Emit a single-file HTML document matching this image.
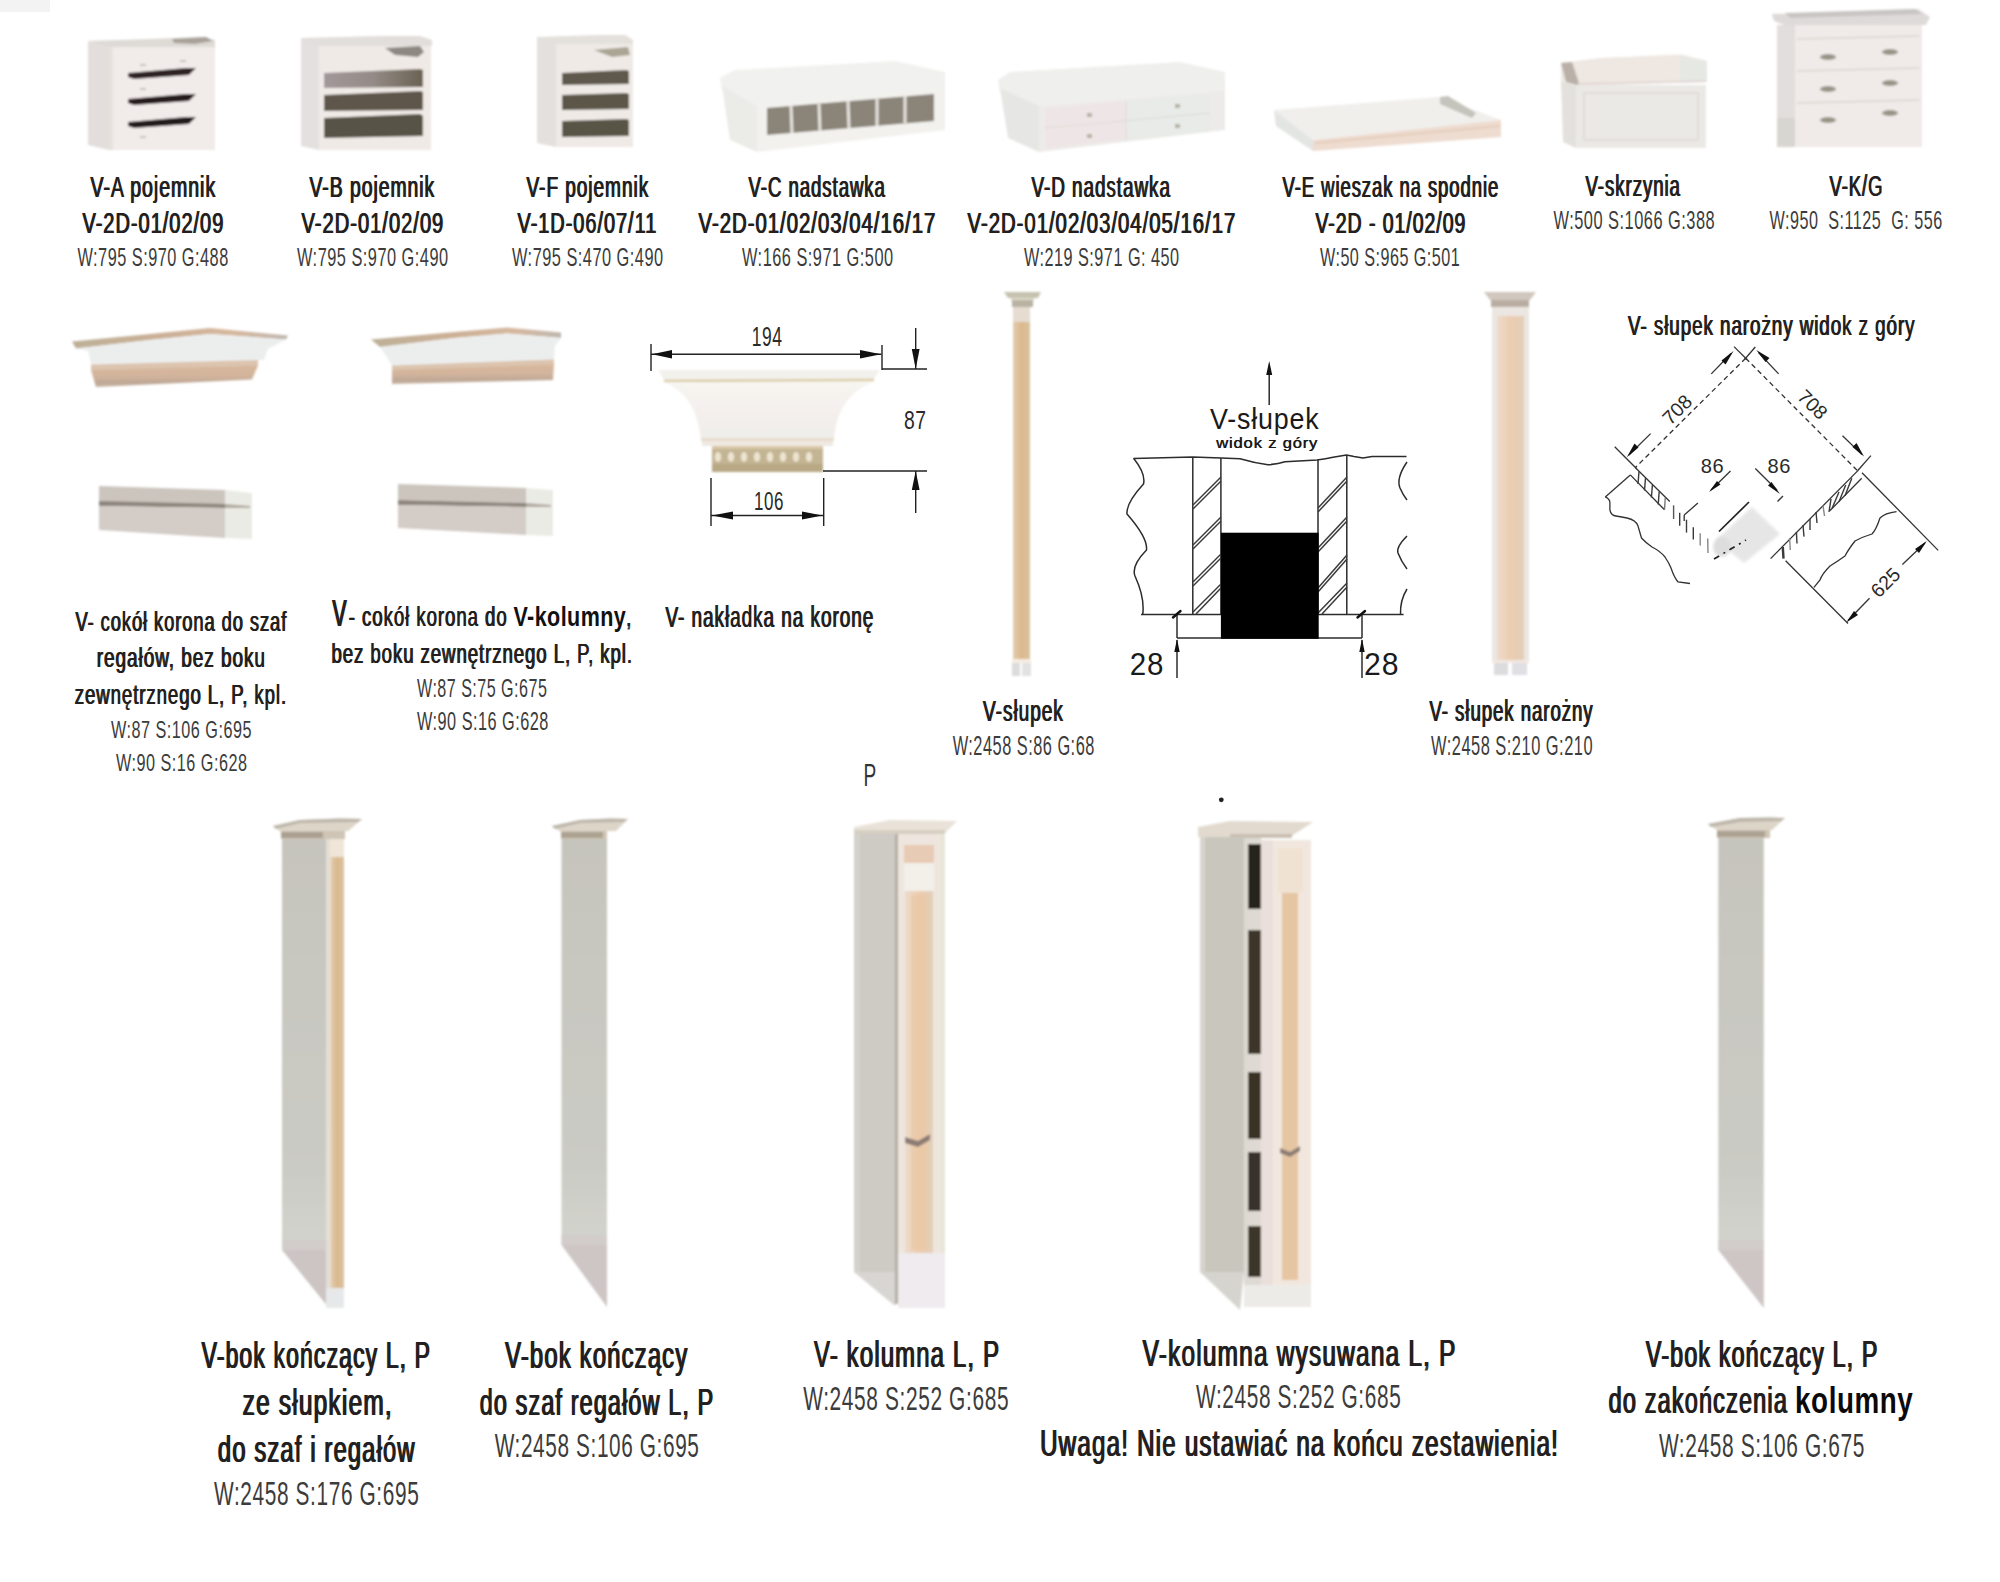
<!DOCTYPE html>
<html><head><meta charset="utf-8"><title>V - katalog elementow</title><style>
html,body{margin:0;padding:0;background:#fff;}
body{width:2000px;height:1582px;overflow:hidden;position:relative;}
svg{position:absolute;left:0;top:0;display:block;}
text{font-family:"Liberation Sans",sans-serif;white-space:pre;}
</style></head><body>
<svg width="2000" height="1582" viewBox="0 0 2000 1582">
<defs>
  <filter id="bl" x="-5%" y="-5%" width="110%" height="110%"><feGaussianBlur stdDeviation="0.9"/></filter>
  <filter id="bl2" x="-10%" y="-10%" width="120%" height="120%"><feGaussianBlur stdDeviation="1.6"/></filter>
  <filter id="bl6" x="-30%" y="-30%" width="160%" height="160%"><feGaussianBlur stdDeviation="6"/></filter>
  <linearGradient id="gOpenB1" x1="0" x2="1" y1="0" y2="0">
    <stop offset="0" stop-color="#a2989a"/><stop offset="0.5" stop-color="#948a86"/><stop offset="1" stop-color="#6a6252"/>
  </linearGradient>
  <linearGradient id="gGold" x1="0" x2="1" y1="0" y2="0">
    <stop offset="0" stop-color="#e2cdb0"/><stop offset="0.5" stop-color="#dcb88e"/><stop offset="1" stop-color="#d8c4a0"/>
  </linearGradient>
  <linearGradient id="gGoldP" x1="0" x2="1" y1="0" y2="0">
    <stop offset="0" stop-color="#ecdccc"/><stop offset="0.5" stop-color="#ecccb0"/><stop offset="1" stop-color="#e2cfb8"/>
  </linearGradient>
  <linearGradient id="gBody" x1="0" x2="0" y1="0" y2="1">
    <stop offset="0" stop-color="#c6c5bd"/><stop offset="0.8" stop-color="#cbcbc5"/><stop offset="1" stop-color="#d4d4ce"/>
  </linearGradient>
  <linearGradient id="gTan" x1="0" x2="1" y1="0" y2="0">
    <stop offset="0" stop-color="#c3a58c"/><stop offset="0.6" stop-color="#c8aa8e"/><stop offset="1" stop-color="#c4ae96"/>
  </linearGradient>
  <linearGradient id="gTopBand" x1="0" x2="1" y1="0" y2="0">
    <stop offset="0" stop-color="#bdb098"/><stop offset="0.45" stop-color="#cdb096"/><stop offset="0.75" stop-color="#d6b89e"/><stop offset="1" stop-color="#c0b8b0"/>
  </linearGradient>
  <linearGradient id="gLow" x1="0" x2="0" y1="0" y2="1">
    <stop offset="0" stop-color="#d8b89e"/><stop offset="0.5" stop-color="#d2b49c"/><stop offset="0.8" stop-color="#bea896"/><stop offset="1" stop-color="#c8b4a4"/>
  </linearGradient>
  <linearGradient id="gBowl" x1="0" x2="0" y1="0" y2="1">
    <stop offset="0" stop-color="#f6f5f0"/><stop offset="0.6" stop-color="#f4efec"/><stop offset="1" stop-color="#eeeeea"/>
  </linearGradient>
</defs>

<!-- faint top-left patch -->
<rect x="0" y="0" width="50" height="12" fill="#f3f3f3"/>

<!-- ================= ROW 1 ================= -->
<g id="r1" filter="url(#bl)">
  <!-- V-A pojemnik -->
  <polygon points="88,41 109,46 109,150 88,145" fill="#e3dedb"/>
  <polygon points="88,41 150,39 200,37 215,40 215,47 109,47" fill="#dedad6"/>
  <polygon points="172,39 206,37 213,41 195,44 174,43" fill="#a8a29a"/>
  <rect x="109" y="47" width="106" height="103" fill="#f1ebea"/>
  <rect x="109" y="47" width="4" height="103" fill="#e6e2dc"/>
  <polygon points="128,73 186,68 196,68 189,75 134,79 128,77" fill="#2e2422"/>
  <polygon points="128,99 186,94 196,94 189,101 134,105 128,103" fill="#261c1a"/>
  <polygon points="128,122 186,117 196,117 189,124 134,128 128,126" fill="#241c1a"/>
  <rect x="140" y="64" width="6" height="2" fill="#c8c2bc"/>
  <rect x="180" y="60" width="6" height="2" fill="#c8c2bc"/>
  <rect x="140" y="88" width="6" height="2" fill="#c8c2bc"/>
  <rect x="140" y="136" width="6" height="2" fill="#c8c2bc"/>

  <!-- V-B pojemnik -->
  <polygon points="301,38 319,42 319,150 301,146" fill="#e4e0e0"/>
  <polygon points="301,38 380,36 420,36 432,40 432,46 319,46" fill="#e2dedb"/>
  <rect x="319" y="46" width="112" height="104" fill="#efeae6"/>
  <polygon points="385,48 420,46 424,52 418,57 395,55" fill="#8e8882"/>
  <polygon points="324,73 420,69 423,70 423,87 324,88" fill="url(#gOpenB1)"/>
  <polygon points="324,95 420,91 423,92 423,110 324,111" fill="#5f574c"/>
  <polygon points="324,118 420,114 423,116 423,136 324,138" fill="#585346"/>

  <!-- V-F pojemnik -->
  <polygon points="537,37 556,41 556,147 537,143" fill="#e3e0de"/>
  <polygon points="537,37 600,35 625,35 633,40 633,44 556,44" fill="#e4e0dc"/>
  <rect x="556" y="44" width="77" height="103" fill="#efeae6"/>
  <polygon points="594,50 628,47 630,55 612,57" fill="#aaa594"/>
  <polygon points="562,73 626,70 629,71 629,84 562,85" fill="#5e594d"/>
  <polygon points="562,95 626,93 629,94 629,109 562,110" fill="#5c574a"/>
  <polygon points="562,121 626,119 629,120 629,136 562,137" fill="#585446"/>

  <!-- V-C nadstawka -->
  <polygon points="720,78 735,70 895,61 945,72 945,90 757,106 722,90" fill="#f1f1ef"/>
  <polygon points="722,86 757,106 757,152 730,140" fill="#ebebe8"/>
  <polygon points="757,106 945,88 945,130 757,152" fill="#f2f1ee"/>
  <polygon points="767,108 934,94 934,121 767,135" fill="#8b8479"/>
  <g stroke="#e6e3de" stroke-width="3">
    <line x1="791" y1="106" x2="792" y2="133"/>
    <line x1="819" y1="104" x2="820" y2="131"/>
    <line x1="848" y1="101" x2="849" y2="128"/>
    <line x1="877" y1="99" x2="877" y2="126"/>
    <line x1="905" y1="96" x2="905" y2="123"/>
  </g>

  <!-- V-D nadstawka -->
  <polygon points="998,80 1010,72 1180,62 1225,72 1225,90 1039,106 1000,92" fill="#efefed"/>
  <polygon points="1000,88 1039,106 1039,152 1008,138" fill="#e6e7e4"/>
  <polygon points="1039,106 1225,90 1225,130 1039,152" fill="#edebe9"/>
  <polygon points="1045,108 1125,101 1125,140 1045,149" fill="#eee6e6"/>
  <polygon points="1128,101 1210,94 1210,131 1128,140" fill="#e8ebe8"/>
  <g stroke="#dcdad6" stroke-width="1.2" fill="none">
    <line x1="1045" y1="128" x2="1210" y2="113"/>
    <line x1="1126" y1="101" x2="1126" y2="141"/>
  </g>
  <g fill="#b8b0a4">
    <rect x="1087" y="113" width="5" height="4"/><rect x="1087" y="134" width="5" height="4"/>
    <rect x="1175" y="104" width="5" height="4"/><rect x="1175" y="124" width="5" height="4"/>
  </g>

  <!-- V-E wieszak -->
  <polygon points="1274,110 1440,97 1501,120 1313,140" fill="#f0efec"/>
  <polygon points="1274,110 1313,140 1313,151 1276,126" fill="#e2e5e2"/>
  <polygon points="1313,140 1501,120 1501,137 1313,151" fill="#eedcd0"/>
  <line x1="1315" y1="143" x2="1500" y2="126" stroke="#e4cdbb" stroke-width="2"/>
  <polygon points="1440,97 1448,96 1476,113 1472,118 1440,104" fill="#c4c4bc"/>

  <!-- V-skrzynia -->
  <polygon points="1561,63 1600,58 1681,54.5 1707,61 1707,82 1577,86 1561,81" fill="#eee7e2"/>
  <polygon points="1680,56 1707,61 1707,82 1680,83" fill="#e6e8e4"/>
  <polygon points="1561,63 1572,62 1580,86 1566,82" fill="#b9b1a8"/>
  <line x1="1578" y1="84" x2="1706" y2="81" stroke="#e2d8d6" stroke-width="2"/>
  <rect x="1576" y="85" width="130" height="63" fill="#ebe9e5"/>
  <polygon points="1561,81 1576,86 1576,148 1563,142" fill="#e3e1dd"/>
  <rect x="1584" y="93" width="114" height="47" fill="none" stroke="#e0ddd8" stroke-width="2"/>
  <!-- V-K/G -->
  <polygon points="1772,14 1918,9 1930,17 1926,25 1790,27 1774,21" fill="#dedad9"/>
  <polygon points="1785,13 1915,9 1922,14 1790,18" fill="#c9c5c4"/>
  <rect x="1777" y="25" width="18" height="122" fill="#e2dedc"/>
  <rect x="1795" y="25" width="127" height="122" fill="#f0eae8"/>
  <rect x="1777" y="118" width="18" height="29" fill="#d8d6d0"/>
  <g stroke="#dcd6d2" stroke-width="1.5">
    <line x1="1797" y1="39" x2="1920" y2="36"/>
    <line x1="1797" y1="71" x2="1920" y2="68"/>
    <line x1="1797" y1="103" x2="1920" y2="100"/>
  </g>
  <g fill="#9a9488">
    <ellipse cx="1828" cy="57" rx="8" ry="3"/><ellipse cx="1890" cy="52" rx="8" ry="3"/>
    <ellipse cx="1828" cy="89" rx="8" ry="3"/><ellipse cx="1890" cy="83" rx="8" ry="3"/>
    <ellipse cx="1828" cy="120" rx="8" ry="3"/><ellipse cx="1890" cy="113" rx="8" ry="3"/>
  </g>
</g>

<!-- ================= ROW 2 ================= -->
<g id="r2img" filter="url(#bl)">
  <!-- cornice 1 -->
  <polygon points="72,341.5 150,334 210,328 288,335.5 286,339.5 210,334 150,340 76,348.5" fill="url(#gTopBand)"/>
  <polygon points="76,348.5 150,340 210,334 286,339.5 268,349 264,360 91,364.5 88,351" fill="#eceeee"/>
  <polygon points="91,364.5 258,360 258,366 91,370.5" fill="#dcc4ae"/>
  <polygon points="91,370 258,365.5 252,379.5 96,387" fill="url(#gLow)"/>
  <!-- cornice 2 -->
  <polygon points="371,339.5 455,332 507,327.5 561,332.5 561,338 507,333.5 455,338 380,347" fill="url(#gTopBand)"/>
  <polygon points="380,347 455,338 507,333.5 561,338 555,346 554,360 392,365.5 386,356" fill="#eceeee"/>
  <polygon points="392,365.5 554,359.5 554,365 392,370.5" fill="#dcc4ae"/>
  <polygon points="392,370 554,364.5 553,380 392,384" fill="url(#gLow)"/>
  <!-- plinth 1 -->
  <polygon points="99,486 225,490 225,505 99,502" fill="#cbc5bd"/>
  <polygon points="99,501 225,504 225,508 99,506" fill="#8e867e"/>
  <polygon points="99,506 225,508 225,538 99,530" fill="#d3ccc7"/>
  <polygon points="225,490 252,493 252,539 225,538" fill="#ebebe5"/>
  <polygon points="225,504 250,506 250,508 225,508" fill="#b0aaa0"/>
  <!-- plinth 2 -->
  <polygon points="398,484 526,488 526,503 398,500" fill="#cbc5bd"/>
  <polygon points="398,500 526,503 526,507 398,505" fill="#8e867e"/>
  <polygon points="398,505 526,507 526,535 398,528" fill="#d3ccc7"/>
  <polygon points="526,488 553,490 553,536 526,535" fill="#ebebe5"/>
  <polygon points="526,503 551,505 551,507 526,507" fill="#b0aaa0"/>

  <!-- capital (nakladka) -->
  <polygon points="658,370 880,370 873,380 665,381" fill="#f2f1ec"/>
  <line x1="664" y1="381" x2="874" y2="380" stroke="#dccca4" stroke-width="2.5"/>
  <path d="M664,382 L873,382 C848,392 836,412 834,440 L701,440 C698,412 688,392 664,382 Z" fill="url(#gBowl)"/>
  <rect x="701" y="438" width="133" height="3" fill="#e8dccb"/>
  <rect x="702" y="441" width="131" height="5" fill="#efe9e2"/>
  <rect x="712" y="446" width="111" height="26" fill="#c3b493"/>
  <rect x="712" y="446" width="111" height="3" fill="#d8c8a8"/>
  <g fill="#ece4d0">
    <ellipse cx="718" cy="457" rx="3.2" ry="5"/><ellipse cx="731" cy="457" rx="3.2" ry="5"/>
    <ellipse cx="744" cy="457" rx="3.2" ry="5"/><ellipse cx="757" cy="457" rx="3.2" ry="5"/>
    <ellipse cx="770" cy="457" rx="3.2" ry="5"/><ellipse cx="783" cy="457" rx="3.2" ry="5"/>
    <ellipse cx="796" cy="457" rx="3.2" ry="5"/><ellipse cx="809" cy="457" rx="3.2" ry="5"/>
  </g>
  <rect x="712" y="464" width="111" height="8" fill="#b8a884"/>

  <!-- V-slupek column -->
  <polygon points="1004,292 1041,292 1038,298 1008,298" fill="#c6c2b0"/>
  <rect x="1011" y="298" width="23" height="3" fill="#e0dccc"/>
  <rect x="1012" y="300" width="21" height="7" fill="#b8b2a2"/>
  <rect x="1013" y="307" width="17" height="15" fill="#e6dcd0"/>
  <rect x="1013" y="322" width="17" height="337" fill="url(#gGold)"/>
  <rect x="1012" y="659" width="19" height="4" fill="#f6ece2"/>
  <rect x="1012" y="663" width="8" height="13" fill="#dcdcdc"/>
  <rect x="1022" y="663" width="9" height="13" fill="#e2e2e4"/>

  <!-- corner column -->
  <polygon points="1484,292 1536,292 1530,300 1490,300" fill="#d0c8be"/>
  <rect x="1491" y="300" width="38" height="7" fill="#b9ada2"/>
  <rect x="1492" y="307" width="37" height="353" fill="#ece6e2"/>
  <rect x="1497" y="316" width="27" height="344" fill="url(#gGoldP)"/>
  <rect x="1492" y="660" width="37" height="3" fill="#f2e8e2"/>
  <rect x="1494" y="663" width="14" height="12" fill="#dcdcde"/>
  <rect x="1512" y="663" width="15" height="12" fill="#e0dfe4"/>
</g>

<!-- dimension lines for capital -->
<g stroke="#222" stroke-width="1.4" fill="none">
  <line x1="651" y1="354.2" x2="881.5" y2="354.2"/>
  <line x1="651" y1="344" x2="651" y2="371"/>
  <line x1="882" y1="345" x2="882" y2="370"/>
  <line x1="882" y1="369" x2="927" y2="369"/>
  <line x1="823" y1="471" x2="927" y2="471"/>
  <line x1="915.7" y1="328" x2="915.7" y2="369"/>
  <line x1="915.7" y1="471" x2="915.7" y2="513"/>
  <line x1="711" y1="515.5" x2="823.7" y2="515.5"/>
  <line x1="711" y1="478" x2="711" y2="526"/>
  <line x1="823.7" y1="478" x2="823.7" y2="526"/>
</g>
<g fill="#111">
  <polygon points="652,354.2 672,350 672,358.4"/>
  <polygon points="881,354.2 860,350 860,358.4"/>
  <polygon points="915.7,369 911.8,349 919.6,349"/>
  <polygon points="915.7,471 911.8,490 919.6,490"/>
  <polygon points="712,515.5 733,511.5 733,519.5"/>
  <polygon points="822.5,515.5 802,511.5 802,519.5"/>
</g>

<!-- ================= V-slupek diagram ================= -->
<g id="diag1" stroke="#2c2c2c" stroke-width="1.5" fill="none" stroke-linejoin="round">
  <path d="M1133.5,458.5 L1192.7,457 L1221,458 L1240,458.7 Q1255,463 1268,464.8 Q1278,464 1285,461.7 L1317,460 Q1326,459 1333,457.2 L1346.5,455 L1354,456.5 L1363,458 L1372,456.5 L1406.5,456.5"/>
  <path d="M1133.6,458.3 Q1146,474 1143.5,484 Q1126,503 1127,514 Q1148,538 1146.5,550 Q1131,566 1135,576 Q1145,598 1142.7,614.6"/>
  <path d="M1407,462 Q1396,478 1400,488 Q1403,495 1407,500"/>
  <path d="M1407,536 Q1396,547 1398,553 Q1401,561 1407,569"/>
  <path d="M1407,589 Q1400,600 1400.5,614.6"/>
  <line x1="1141" y1="614.6" x2="1403.6" y2="614.6"/>
  <line x1="1192.8" y1="457" x2="1192.8" y2="614.6"/>
  <line x1="1220.9" y1="458" x2="1220.9" y2="614.6"/>
  <line x1="1318" y1="460" x2="1318" y2="614.6"/>
  <line x1="1346.8" y1="455" x2="1346.8" y2="614.6"/>
  <line x1="1177" y1="614.6" x2="1177" y2="638"/>
  <line x1="1362" y1="614.6" x2="1362" y2="638"/>
  <line x1="1177" y1="638" x2="1362" y2="638"/>
  <line x1="1177" y1="640" x2="1177" y2="678"/>
  <line x1="1362" y1="640" x2="1362" y2="678"/>
  <line x1="1269.2" y1="372" x2="1269.2" y2="405"/>
</g>
<g id="hatch1" stroke="#3a3a3a" stroke-width="1.5" fill="none">
  <line x1="1193" y1="505" x2="1221" y2="477"/><line x1="1193" y1="509" x2="1221" y2="481"/>
  <line x1="1193" y1="545" x2="1221" y2="517"/><line x1="1193" y1="549" x2="1221" y2="521"/>
  <line x1="1193" y1="582" x2="1221" y2="554"/><line x1="1193" y1="586" x2="1221" y2="558"/>
  <line x1="1193" y1="612" x2="1221" y2="584"/><line x1="1196" y1="614" x2="1221" y2="588"/>
  <line x1="1318" y1="508" x2="1347" y2="477"/><line x1="1318" y1="512" x2="1347" y2="481"/>
  <line x1="1318" y1="548" x2="1347" y2="517"/><line x1="1318" y1="552" x2="1347" y2="521"/>
  <line x1="1318" y1="588" x2="1347" y2="555"/><line x1="1318" y1="592" x2="1347" y2="559"/>
  <line x1="1318" y1="613" x2="1347" y2="583"/><line x1="1322" y1="614" x2="1347" y2="587"/>
</g>
<rect x="1220.9" y="532.7" width="97.8" height="106.1" fill="#000"/>
<g fill="#111" stroke="none">
  <polygon points="1269.2,361 1266.2,375 1272.2,375"/>
  <polygon points="1177,639 1174.3,652 1179.7,652"/>
  <polygon points="1362,639 1359.3,652 1364.7,652"/>
</g>
<g stroke="#111" stroke-width="2.4" stroke-linecap="round">
  <line x1="1173" y1="617.5" x2="1180.5" y2="611"/>
  <line x1="1357.5" y1="617.5" x2="1365" y2="611"/>
</g>

<!-- ================= corner diagram ================= -->
<polygon points="1716,540 1752,507 1780,534 1744,563" fill="#e6e6e6" filter="url(#bl2)"/>
<ellipse cx="1722" cy="547" rx="9" ry="10" fill="#dddddd" filter="url(#bl2)"/>
<g id="diag2" stroke="#333" stroke-width="1.3" fill="none" stroke-linecap="butt">
  <line x1="1745.7" y1="358.2" x2="1635.4" y2="467.5" stroke-dasharray="5,3.5"/>
  <line x1="1745.7" y1="358.2" x2="1857.6" y2="470.8" stroke-dasharray="5,3.5"/>
  <line x1="1734" y1="346.6" x2="1747" y2="359.5"/>
  <line x1="1755.3" y1="347" x2="1744.5" y2="359.5"/>
  <line x1="1711.3" y1="373.9" x2="1731" y2="353.5"/>
  <line x1="1650.6" y1="433.6" x2="1629" y2="455"/>
  <line x1="1614.7" y1="446.7" x2="1636.4" y2="468.5"/>
  <line x1="1758.5" y1="352.5" x2="1778.6" y2="373.9"/>
  <line x1="1842.5" y1="435.7" x2="1862" y2="454.6"/>
  <line x1="1870.9" y1="455.6" x2="1857.6" y2="470.8"/>
  <!-- left wall -->
  <line x1="1635.7" y1="468" x2="1669.8" y2="501.5"/>
  <line x1="1630.3" y1="474.9" x2="1664.5" y2="509.8"/>
  <line x1="1630.3" y1="474.9" x2="1605.3" y2="496.9"/>
  <line x1="1684.2" y1="515.1" x2="1697.9" y2="503"/>
  <path d="M1605.3,496.9 Q1610,499 1609.9,503 L1609.9,510 Q1611,515.5 1616,516 Q1622,517 1627,518 Q1636,520 1638,526 Q1640,533 1641.5,538 Q1646,543 1652,547 Q1660,551 1665,557 Q1669,563 1671,568 Q1674,577 1678,582 L1690,583.5"/>
  <!-- 86 arrows -->
  <line x1="1730.5" y1="471" x2="1711" y2="490"/>
  <line x1="1755.3" y1="468.5" x2="1777" y2="490"/>
  <polyline points="1783,496 1777.5,501.5"/>
  <!-- dashed near blob -->
  <line x1="1719" y1="531.5" x2="1749" y2="502" stroke="#222" stroke-width="1.7"/>
  <line x1="1714" y1="559" x2="1746" y2="540" stroke="#222" stroke-width="1.7" stroke-dasharray="6,5,2,5"/>
    <!-- right wall -->
  <line x1="1857.9" y1="470.6" x2="1770.6" y2="558.6"/>
  <line x1="1861.7" y1="478.2" x2="1829.8" y2="510.8"/>
  <line x1="1862" y1="472.7" x2="1938.2" y2="550.4"/>
  <line x1="1785.6" y1="560.8" x2="1848" y2="623.5"/>
  <path d="M1896.5,511.6 Q1885,513 1880,518 Q1876,530 1872,534 Q1862,537 1855,541 Q1848,550 1845,556 Q1838,561 1830,566 Q1822,574 1820,580 L1814,587.4"/>
  <!-- 625 dim -->
  <line x1="1848" y1="620.5" x2="1869.5" y2="598.3"/>
  <line x1="1902.4" y1="564.5" x2="1925" y2="543"/>
</g>
<g stroke="#3a3a3a" stroke-width="1.4">
  <!-- left wall hatch ticks -->
  <line x1="1639" y1="471.5" x2="1638" y2="484"/><line x1="1645.5" y1="478" x2="1644.5" y2="490.5"/>
  <line x1="1652.4" y1="485" x2="1651.4" y2="497.5"/><line x1="1659.2" y1="491.5" x2="1658.2" y2="504.5"/>
  <line x1="1665.3" y1="497.5" x2="1664.5" y2="509.5" stroke="#777"/>
  <line x1="1673.6" y1="505.3" x2="1673.6" y2="519" stroke="#555"/>
  <line x1="1679.7" y1="512.8" x2="1679.7" y2="525.7"/>
  <line x1="1684.2" y1="515" x2="1684.2" y2="521"/>
  <line x1="1686.5" y1="519.7" x2="1686.5" y2="532.6"/>
  <line x1="1693.3" y1="527.3" x2="1693.3" y2="539.4"/>
  <line x1="1700.2" y1="533.3" x2="1700.2" y2="545.5" stroke="#888"/>
  <line x1="1707.7" y1="538.6" x2="1708" y2="553" stroke="#888"/>
  <!-- right wall hatch ticks -->
  <line x1="1851.8" y1="478.2" x2="1845" y2="495.7"/>
  <line x1="1845.7" y1="485" x2="1839" y2="501.7"/>
  <line x1="1839" y1="492" x2="1832" y2="508.6"/>
  <line x1="1831" y1="499" x2="1829" y2="512"/>
  <line x1="1823" y1="505.5" x2="1824.5" y2="516" stroke="#888"/>
  <line x1="1816" y1="512" x2="1817" y2="523"/>
  <line x1="1810" y1="519" x2="1810" y2="530"/>
  <line x1="1803" y1="525" x2="1804" y2="536.6"/>
  <line x1="1796.4" y1="532" x2="1797" y2="543.5"/>
  <line x1="1789.6" y1="538" x2="1790.3" y2="550" stroke="#888"/>
  <line x1="1782.8" y1="547" x2="1783.5" y2="558.6" stroke-width="2.4"/>
</g>
<g fill="#111">
  <polygon points="1733.5,351 1721.5,360.5 1725.5,364.5"/>
  <polygon points="1626.8,457.3 1638.5,447.5 1634.5,443.5"/>
  <polygon points="1756.3,350 1765.5,362 1769.5,358"/>
  <polygon points="1864,456.6 1852.5,447 1856.5,443"/>
  <polygon points="1709,492 1717,481 1720.5,484.5"/>
  <polygon points="1780,494 1768,485.5 1771.5,482"/>
  <polygon points="1846.3,622.5 1854,611 1858,615"/>
  <polygon points="1926.8,541 1915,549 1919,553"/>
</g>
<g font-family="Liberation Sans" fill="#2a2a2a" font-size="19.5" text-anchor="middle">
  <text transform="translate(1677,409.5) rotate(-45)" y="7">708</text>
  <text transform="translate(1812.8,404.3) rotate(45)" y="7">708</text>
  <text transform="translate(1885.3,582.3) rotate(-45)" y="7">625</text>
</g>
<circle cx="1221.3" cy="799.8" r="2.4" fill="#222"/>

<!-- ================= ROW 3 (tall items) ================= -->
<g id="r3" filter="url(#bl)">
  <!-- item 1 -->
  <polygon points="273,826 300,820 340,818.5 362,819 348,831 281,832" fill="#ddd5c8"/>
  <polygon points="273,826 300,820 340,818.5 362,819 358,822 300,823 276,829" fill="#bdb6aa"/>
  <rect x="281" y="831" width="64" height="8" fill="#cfc5b6"/>
  <rect x="281" y="832" width="42" height="6" fill="#aaa092"/>
  <rect x="282" y="839" width="44.5" height="411" fill="url(#gBody)"/>
  <polygon points="282,1250 326.5,1250 326.5,1305" fill="#cdc5c4"/>
  <rect x="282" y="1240" width="44.5" height="10" fill="#d2cccb"/>
  <rect x="326.5" y="839" width="4" height="449" fill="#e4ddd2"/>
  <rect x="330.5" y="839" width="13.5" height="18" fill="#efe6d8"/>
  <rect x="330.5" y="857" width="13.5" height="431" fill="url(#gGold)"/>
  <rect x="326" y="1288" width="18" height="20" fill="#e6e8ea"/>

  <!-- item 2 -->
  <polygon points="552,826 580,820 610,818.5 628,819 616,831 561,832" fill="#ddd5c8"/>
  <polygon points="552,826 580,820 610,818.5 628,819 624,822 580,823 555,829" fill="#bdb6aa"/>
  <rect x="561" y="831" width="46" height="8" fill="#cfc5b6"/>
  <rect x="561" y="832" width="42" height="6" fill="#aca292"/>
  <rect x="561.5" y="839" width="45.5" height="406" fill="url(#gBody)"/>
  <polygon points="561.5,1245 607,1245 607,1307" fill="#cdc6c4"/>
  <rect x="561.5" y="1235" width="45.5" height="10" fill="#d2cccb"/>

  <!-- item 3 (kolumna) -->
  <polygon points="854,827 890,820 957,821 945,833 854,833" fill="#e9e2d8"/>
  <rect x="854" y="830" width="91" height="4" fill="#d6cec2"/>
  <rect x="854" y="834" width="41" height="438" fill="#cdcbc4"/>
  <rect x="854" y="834" width="6" height="438" fill="#d4d2cc"/>
  <polygon points="854,1272 895,1272 895,1306" fill="#d8d6d2"/>
  <rect x="895" y="834" width="3" height="470" fill="#b4aea4"/>
  <rect x="898" y="834" width="47" height="470" fill="#eee6de"/>
  <rect x="940" y="834" width="5" height="470" fill="#e8e6d8"/>
  <rect x="904" y="845" width="30" height="18" fill="#e8cbb4"/>
  <rect x="904" y="863" width="30" height="28" fill="#f3f0ea"/>
  <rect x="905" y="891" width="28" height="362" fill="url(#gGoldP)"/>
  <rect x="911" y="895" width="16" height="355" fill="#ebc6a2" opacity="0.6"/>
  <rect x="898" y="1253" width="47" height="55" fill="#efebee"/>
  <polygon points="905,1137 918,1141 930,1134 930,1140 918,1147 905,1143" fill="#8c7c74"/>

  <!-- item 4 (kolumna wysuwana) -->
  <polygon points="1198,827 1230,821 1313,822 1290,837 1198,837" fill="#e2dacf"/>
  <rect x="1230" y="834" width="62" height="4" fill="#c9bfb2"/>
  <rect x="1200" y="837" width="44" height="435" fill="#c9c7bd"/>
  <rect x="1200" y="837" width="5" height="435" fill="#d6d4ce"/>
  <polygon points="1200,1272 1244,1272 1240,1310" fill="#d6d4cf"/>
  <rect x="1244" y="838" width="17" height="447" fill="#dedad3"/>
  <rect x="1248" y="844" width="13" height="65" fill="#28241c"/>
  <rect x="1248" y="930" width="13" height="124" fill="#3c342a"/>
  <rect x="1248" y="1072" width="13" height="67" fill="#3a3228"/>
  <rect x="1248" y="1152" width="13" height="59" fill="#38302a"/>
  <rect x="1248" y="1226" width="13" height="51" fill="#3a342c"/>
  <rect x="1261" y="840" width="12" height="450" fill="#ebdfdc"/>
  <rect x="1273" y="840" width="38" height="450" fill="#f1e7df"/>
  <rect x="1278" y="848" width="25" height="45" fill="#efe2d2"/>
  <rect x="1282" y="893" width="16" height="387" fill="#e6c6a2"/>
  <polygon points="1280,1148 1290,1152 1300,1146 1300,1151 1290,1157 1280,1153" fill="#8c7c74"/>
  <rect x="1244" y="1285" width="67" height="22" fill="#ecebe8"/>

  <!-- item 5 -->
  <polygon points="1708,824 1740,818 1770,817.5 1785,818 1772,830 1717,830" fill="#ddd5c8"/>
  <polygon points="1708,824 1740,818 1770,817.5 1785,818 1781,821 1740,822 1711,827" fill="#bdb6aa"/>
  <rect x="1717" y="830" width="53" height="8" fill="#cfc5b6"/>
  <rect x="1717" y="831" width="48" height="6" fill="#aca292"/>
  <rect x="1718.3" y="838" width="45.5" height="412" fill="url(#gBody)"/>
  <polygon points="1718.3,1250 1763.8,1250 1763.8,1308" fill="#cdc6c4"/>
  <rect x="1718.3" y="1240" width="45.5" height="10" fill="#d2cccb"/>
</g>

<g id="texts">
<text x="90.00" y="196.50" font-size="28.99" letter-spacing="1.45" fill="#231f20" textLength="125.66" lengthAdjust="spacingAndGlyphs">V-A pojemnik</text>
<text x="90.97" y="196.50" font-size="28.99" letter-spacing="1.45" fill="#231f20" textLength="125.66" lengthAdjust="spacingAndGlyphs">V-A pojemnik</text>
<text x="82.00" y="232.50" font-size="28.99" letter-spacing="1.45" fill="#231f20" textLength="141.80" lengthAdjust="spacingAndGlyphs">V-2D-01/02/09</text>
<text x="82.97" y="232.50" font-size="28.99" letter-spacing="1.45" fill="#231f20" textLength="141.80" lengthAdjust="spacingAndGlyphs">V-2D-01/02/09</text>
<text x="77.50" y="266.00" font-size="25.36" letter-spacing="0.76" fill="#3c3c3c" textLength="151.20" lengthAdjust="spacingAndGlyphs">W:795 S:970 G:488</text>
<text x="309.00" y="196.50" font-size="28.99" letter-spacing="1.45" fill="#231f20" textLength="125.66" lengthAdjust="spacingAndGlyphs">V-B pojemnik</text>
<text x="309.97" y="196.50" font-size="28.99" letter-spacing="1.45" fill="#231f20" textLength="125.66" lengthAdjust="spacingAndGlyphs">V-B pojemnik</text>
<text x="301.00" y="232.50" font-size="28.99" letter-spacing="1.45" fill="#231f20" textLength="142.81" lengthAdjust="spacingAndGlyphs">V-2D-01/02/09</text>
<text x="301.97" y="232.50" font-size="28.99" letter-spacing="1.45" fill="#231f20" textLength="142.81" lengthAdjust="spacingAndGlyphs">V-2D-01/02/09</text>
<text x="297.00" y="266.00" font-size="25.36" letter-spacing="0.76" fill="#3c3c3c" textLength="151.56" lengthAdjust="spacingAndGlyphs">W:795 S:970 G:490</text>
<text x="526.00" y="196.50" font-size="28.99" letter-spacing="1.45" fill="#231f20" textLength="122.65" lengthAdjust="spacingAndGlyphs">V-F pojemnik</text>
<text x="526.97" y="196.50" font-size="28.99" letter-spacing="1.45" fill="#231f20" textLength="122.65" lengthAdjust="spacingAndGlyphs">V-F pojemnik</text>
<text x="517.00" y="232.50" font-size="28.99" letter-spacing="1.45" fill="#231f20" textLength="139.79" lengthAdjust="spacingAndGlyphs">V-1D-06/07/11</text>
<text x="517.97" y="232.50" font-size="28.99" letter-spacing="1.45" fill="#231f20" textLength="139.79" lengthAdjust="spacingAndGlyphs">V-1D-06/07/11</text>
<text x="512.00" y="266.00" font-size="25.36" letter-spacing="0.76" fill="#3c3c3c" textLength="151.56" lengthAdjust="spacingAndGlyphs">W:795 S:470 G:490</text>
<text x="748.00" y="196.50" font-size="28.99" letter-spacing="1.45" fill="#231f20" textLength="137.39" lengthAdjust="spacingAndGlyphs">V-C nadstawka</text>
<text x="748.97" y="196.50" font-size="28.99" letter-spacing="1.45" fill="#231f20" textLength="137.39" lengthAdjust="spacingAndGlyphs">V-C nadstawka</text>
<text x="698.00" y="232.50" font-size="28.99" letter-spacing="1.45" fill="#231f20" textLength="237.83" lengthAdjust="spacingAndGlyphs">V-2D-01/02/03/04/16/17</text>
<text x="698.97" y="232.50" font-size="28.99" letter-spacing="1.45" fill="#231f20" textLength="237.83" lengthAdjust="spacingAndGlyphs">V-2D-01/02/03/04/16/17</text>
<text x="742.00" y="266.00" font-size="25.36" letter-spacing="0.76" fill="#3c3c3c" textLength="151.56" lengthAdjust="spacingAndGlyphs">W:166 S:971 G:500</text>
<text x="1031.00" y="196.50" font-size="28.99" letter-spacing="1.45" fill="#231f20" textLength="139.40" lengthAdjust="spacingAndGlyphs">V-D nadstawka</text>
<text x="1031.97" y="196.50" font-size="28.99" letter-spacing="1.45" fill="#231f20" textLength="139.40" lengthAdjust="spacingAndGlyphs">V-D nadstawka</text>
<text x="967.00" y="232.50" font-size="28.99" letter-spacing="1.45" fill="#231f20" textLength="268.83" lengthAdjust="spacingAndGlyphs">V-2D-01/02/03/04/05/16/17</text>
<text x="967.97" y="232.50" font-size="28.99" letter-spacing="1.45" fill="#231f20" textLength="268.83" lengthAdjust="spacingAndGlyphs">V-2D-01/02/03/04/05/16/17</text>
<text x="1024.00" y="266.00" font-size="25.36" letter-spacing="0.76" fill="#3c3c3c" textLength="155.55" lengthAdjust="spacingAndGlyphs">W:219 S:971 G: 450</text>
<text x="1282.00" y="196.50" font-size="28.99" letter-spacing="1.45" fill="#231f20" textLength="216.67" lengthAdjust="spacingAndGlyphs">V-E wieszak na spodnie</text>
<text x="1282.97" y="196.50" font-size="28.99" letter-spacing="1.45" fill="#231f20" textLength="216.67" lengthAdjust="spacingAndGlyphs">V-E wieszak na spodnie</text>
<text x="1315.00" y="232.50" font-size="28.99" letter-spacing="1.45" fill="#231f20" textLength="150.75" lengthAdjust="spacingAndGlyphs">V-2D - 01/02/09</text>
<text x="1315.97" y="232.50" font-size="28.99" letter-spacing="1.45" fill="#231f20" textLength="150.75" lengthAdjust="spacingAndGlyphs">V-2D - 01/02/09</text>
<text x="1320.00" y="266.00" font-size="25.36" letter-spacing="0.76" fill="#3c3c3c" textLength="140.19" lengthAdjust="spacingAndGlyphs">W:50 S:965 G:501</text>
<text x="1585.00" y="196.00" font-size="28.99" letter-spacing="1.45" fill="#231f20" textLength="95.39" lengthAdjust="spacingAndGlyphs">V-skrzynia</text>
<text x="1585.97" y="196.00" font-size="28.99" letter-spacing="1.45" fill="#231f20" textLength="95.39" lengthAdjust="spacingAndGlyphs">V-skrzynia</text>
<text x="1553.50" y="228.50" font-size="25.36" letter-spacing="0.76" fill="#3c3c3c" textLength="161.71" lengthAdjust="spacingAndGlyphs">W:500 S:1066 G:388</text>
<text x="1829.00" y="196.00" font-size="28.99" letter-spacing="1.45" fill="#231f20" textLength="53.94" lengthAdjust="spacingAndGlyphs">V-K/G</text>
<text x="1829.97" y="196.00" font-size="28.99" letter-spacing="1.45" fill="#231f20" textLength="53.94" lengthAdjust="spacingAndGlyphs">V-K/G</text>
<text x="1769.50" y="228.50" font-size="25.36" letter-spacing="0.76" fill="#3c3c3c" textLength="173.19" lengthAdjust="spacingAndGlyphs">W:950  S:1125  G: 556</text>
<text x="75.00" y="630.50" font-size="27.54" letter-spacing="1.38" fill="#231f20" textLength="211.76" lengthAdjust="spacingAndGlyphs">V- cokół korona do szaf</text>
<text x="75.92" y="630.50" font-size="27.54" letter-spacing="1.38" fill="#231f20" textLength="211.76" lengthAdjust="spacingAndGlyphs">V- cokół korona do szaf</text>
<text x="96.31" y="667.00" font-size="27.54" letter-spacing="1.38" fill="#231f20" textLength="169.12" lengthAdjust="spacingAndGlyphs">regałów, bez boku</text>
<text x="97.23" y="667.00" font-size="27.54" letter-spacing="1.38" fill="#231f20" textLength="169.12" lengthAdjust="spacingAndGlyphs">regałów, bez boku</text>
<text x="74.32" y="704.00" font-size="27.54" letter-spacing="1.38" fill="#231f20" textLength="212.30" lengthAdjust="spacingAndGlyphs">zewnętrznego L, P, kpl.</text>
<text x="75.24" y="704.00" font-size="27.54" letter-spacing="1.38" fill="#231f20" textLength="212.30" lengthAdjust="spacingAndGlyphs">zewnętrznego L, P, kpl.</text>
<text x="111.00" y="737.50" font-size="24.64" letter-spacing="0.74" fill="#3c3c3c" textLength="140.94" lengthAdjust="spacingAndGlyphs">W:87 S:106 G:695</text>
<text x="116.00" y="770.50" font-size="24.64" letter-spacing="0.74" fill="#3c3c3c" textLength="131.44" lengthAdjust="spacingAndGlyphs">W:90 S:16 G:628</text>
<text x="331.70" y="626.00" font-size="36.23" fill="#231f20" textLength="14.18" lengthAdjust="spacingAndGlyphs">V</text>
<text x="332.91" y="626.00" font-size="36.23" fill="#231f20" textLength="14.18" lengthAdjust="spacingAndGlyphs">V</text>
<text x="348.32" y="626.00" font-size="27.54" letter-spacing="1.38" fill="#231f20" textLength="158.90" lengthAdjust="spacingAndGlyphs">- cokół korona do</text>
<text x="349.24" y="626.00" font-size="27.54" letter-spacing="1.38" fill="#231f20" textLength="158.90" lengthAdjust="spacingAndGlyphs">- cokół korona do</text>
<text x="513.50" y="626.00" font-size="28.26" font-weight="bold" letter-spacing="0.57" fill="#111" textLength="112.71" lengthAdjust="spacingAndGlyphs">V-kolumny</text>
<text x="625.71" y="626.00" font-size="27.54" fill="#231f20" textLength="4.93" lengthAdjust="spacingAndGlyphs">,</text>
<text x="626.63" y="626.00" font-size="27.54" fill="#231f20" textLength="4.93" lengthAdjust="spacingAndGlyphs">,</text>
<text x="331.02" y="663.00" font-size="27.54" letter-spacing="1.38" fill="#231f20" textLength="301.50" lengthAdjust="spacingAndGlyphs">bez boku zewnętrznego L, P, kpl.</text>
<text x="331.94" y="663.00" font-size="27.54" letter-spacing="1.38" fill="#231f20" textLength="301.50" lengthAdjust="spacingAndGlyphs">bez boku zewnętrznego L, P, kpl.</text>
<text x="417.00" y="697.00" font-size="25.36" letter-spacing="0.76" fill="#3c3c3c" textLength="130.35" lengthAdjust="spacingAndGlyphs">W:87 S:75 G:675</text>
<text x="417.00" y="729.50" font-size="25.36" letter-spacing="0.76" fill="#3c3c3c" textLength="131.90" lengthAdjust="spacingAndGlyphs">W:90 S:16 G:628</text>
<text x="665.00" y="626.50" font-size="28.99" letter-spacing="1.45" fill="#231f20" textLength="208.71" lengthAdjust="spacingAndGlyphs">V- nakładka na koronę</text>
<text x="665.97" y="626.50" font-size="28.99" letter-spacing="1.45" fill="#231f20" textLength="208.71" lengthAdjust="spacingAndGlyphs">V- nakładka na koronę</text>
<text x="982.50" y="721.00" font-size="28.99" letter-spacing="1.45" fill="#231f20" textLength="80.85" lengthAdjust="spacingAndGlyphs">V-słupek</text>
<text x="983.47" y="721.00" font-size="28.99" letter-spacing="1.45" fill="#231f20" textLength="80.85" lengthAdjust="spacingAndGlyphs">V-słupek</text>
<text x="952.70" y="755.00" font-size="26.81" letter-spacing="0.80" fill="#3c3c3c" textLength="142.14" lengthAdjust="spacingAndGlyphs">W:2458 S:86 G:68</text>
<text x="1429.00" y="721.00" font-size="28.99" letter-spacing="1.45" fill="#231f20" textLength="164.14" lengthAdjust="spacingAndGlyphs">V- słupek narożny</text>
<text x="1429.97" y="721.00" font-size="28.99" letter-spacing="1.45" fill="#231f20" textLength="164.14" lengthAdjust="spacingAndGlyphs">V- słupek narożny</text>
<text x="1431.00" y="755.00" font-size="26.81" letter-spacing="0.80" fill="#3c3c3c" textLength="162.05" lengthAdjust="spacingAndGlyphs">W:2458 S:210 G:210</text>
<text x="1627.60" y="335.00" font-size="28.26" letter-spacing="1.41" fill="#231f20" textLength="287.42" lengthAdjust="spacingAndGlyphs">V- słupek narożny widok z góry</text>
<text x="1628.54" y="335.00" font-size="28.26" letter-spacing="1.41" fill="#231f20" textLength="287.42" lengthAdjust="spacingAndGlyphs">V- słupek narożny widok z góry</text>
<text x="751.73" y="346.00" font-size="27.54" letter-spacing="0.83" fill="#2a2a2a" textLength="30.68" lengthAdjust="spacingAndGlyphs">194</text>
<text x="903.96" y="428.50" font-size="26.09" letter-spacing="0.78" fill="#2a2a2a" textLength="22.70" lengthAdjust="spacingAndGlyphs">87</text>
<text x="754.05" y="510.00" font-size="26.09" letter-spacing="0.78" fill="#2a2a2a" textLength="29.78" lengthAdjust="spacingAndGlyphs">106</text>
<text x="1210.00" y="428.70" font-size="29.71" letter-spacing="0.89" fill="#1a1a1a" textLength="109.37" lengthAdjust="spacingAndGlyphs">V-słupek</text>
<text x="1216.09" y="448.00" font-size="15.22" letter-spacing="0.76" fill="#1a1a1a" textLength="101.80" lengthAdjust="spacingAndGlyphs">widok z góry</text>
<text x="1216.59" y="448.00" font-size="15.22" letter-spacing="0.76" fill="#1a1a1a" textLength="101.80" lengthAdjust="spacingAndGlyphs">widok z góry</text>
<text x="1129.63" y="674.50" font-size="30.43" letter-spacing="0.91" fill="#1a1a1a" textLength="34.65" lengthAdjust="spacingAndGlyphs">28</text>
<text x="1364.01" y="674.50" font-size="30.43" letter-spacing="0.91" fill="#1a1a1a" textLength="35.41" lengthAdjust="spacingAndGlyphs">28</text>
<text x="1700.70" y="472.50" font-size="21.01" letter-spacing="0.63" fill="#2a2a2a" textLength="23.55" lengthAdjust="spacingAndGlyphs">86</text>
<text x="1767.40" y="472.50" font-size="21.01" letter-spacing="0.63" fill="#2a2a2a" textLength="23.55" lengthAdjust="spacingAndGlyphs">86</text>
<text x="863.50" y="786.00" font-size="31.88" fill="#333" textLength="12.76" lengthAdjust="spacingAndGlyphs">P</text>
<text x="201.00" y="1367.50" font-size="36.23" letter-spacing="1.81" fill="#231f20" textLength="229.57" lengthAdjust="spacingAndGlyphs">V-bok kończący L, P</text>
<text x="202.21" y="1367.50" font-size="36.23" letter-spacing="1.81" fill="#231f20" textLength="229.57" lengthAdjust="spacingAndGlyphs">V-bok kończący L, P</text>
<text x="242.03" y="1414.50" font-size="36.23" letter-spacing="1.81" fill="#231f20" textLength="150.25" lengthAdjust="spacingAndGlyphs">ze słupkiem,</text>
<text x="243.23" y="1414.50" font-size="36.23" letter-spacing="1.81" fill="#231f20" textLength="150.25" lengthAdjust="spacingAndGlyphs">ze słupkiem,</text>
<text x="217.35" y="1461.50" font-size="36.23" letter-spacing="1.81" fill="#231f20" textLength="197.68" lengthAdjust="spacingAndGlyphs">do szaf i regałów</text>
<text x="218.55" y="1461.50" font-size="36.23" letter-spacing="1.81" fill="#231f20" textLength="197.68" lengthAdjust="spacingAndGlyphs">do szaf i regałów</text>
<text x="214.00" y="1504.50" font-size="32.61" letter-spacing="0.98" fill="#3c3c3c" textLength="205.35" lengthAdjust="spacingAndGlyphs">W:2458 S:176 G:695</text>
<text x="504.50" y="1367.50" font-size="36.23" letter-spacing="1.81" fill="#231f20" textLength="183.30" lengthAdjust="spacingAndGlyphs">V-bok kończący</text>
<text x="505.71" y="1367.50" font-size="36.23" letter-spacing="1.81" fill="#231f20" textLength="183.30" lengthAdjust="spacingAndGlyphs">V-bok kończący</text>
<text x="479.16" y="1414.50" font-size="36.23" letter-spacing="1.81" fill="#231f20" textLength="234.65" lengthAdjust="spacingAndGlyphs">do szaf regałów L, P</text>
<text x="480.36" y="1414.50" font-size="36.23" letter-spacing="1.81" fill="#231f20" textLength="234.65" lengthAdjust="spacingAndGlyphs">do szaf regałów L, P</text>
<text x="494.70" y="1457.00" font-size="32.61" letter-spacing="0.98" fill="#3c3c3c" textLength="204.84" lengthAdjust="spacingAndGlyphs">W:2458 S:106 G:695</text>
<text x="813.40" y="1367.00" font-size="36.23" letter-spacing="1.81" fill="#231f20" textLength="186.15" lengthAdjust="spacingAndGlyphs">V- kolumna L, P</text>
<text x="814.61" y="1367.00" font-size="36.23" letter-spacing="1.81" fill="#231f20" textLength="186.15" lengthAdjust="spacingAndGlyphs">V- kolumna L, P</text>
<text x="803.20" y="1410.00" font-size="32.61" letter-spacing="0.98" fill="#3c3c3c" textLength="205.95" lengthAdjust="spacingAndGlyphs">W:2458 S:252 G:685</text>
<text x="1142.00" y="1365.50" font-size="36.23" letter-spacing="1.81" fill="#231f20" textLength="313.99" lengthAdjust="spacingAndGlyphs">V-kolumna wysuwana L, P</text>
<text x="1143.21" y="1365.50" font-size="36.23" letter-spacing="1.81" fill="#231f20" textLength="313.99" lengthAdjust="spacingAndGlyphs">V-kolumna wysuwana L, P</text>
<text x="1196.00" y="1408.00" font-size="32.61" letter-spacing="0.98" fill="#3c3c3c" textLength="205.35" lengthAdjust="spacingAndGlyphs">W:2458 S:252 G:685</text>
<text x="1039.47" y="1455.50" font-size="36.23" letter-spacing="1.81" fill="#231f20" textLength="519.07" lengthAdjust="spacingAndGlyphs">Uwaga! Nie ustawiać na końcu zestawienia!</text>
<text x="1040.67" y="1455.50" font-size="36.23" letter-spacing="1.81" fill="#231f20" textLength="519.07" lengthAdjust="spacingAndGlyphs">Uwaga! Nie ustawiać na końcu zestawienia!</text>
<text x="1645.30" y="1366.50" font-size="36.23" letter-spacing="1.81" fill="#231f20" textLength="232.70" lengthAdjust="spacingAndGlyphs">V-bok kończący L, P</text>
<text x="1646.51" y="1366.50" font-size="36.23" letter-spacing="1.81" fill="#231f20" textLength="232.70" lengthAdjust="spacingAndGlyphs">V-bok kończący L, P</text>
<text x="1608.05" y="1413.30" font-size="36.23" letter-spacing="1.81" fill="#231f20" textLength="179.36" lengthAdjust="spacingAndGlyphs">do zakończenia</text>
<text x="1609.26" y="1413.30" font-size="36.23" letter-spacing="1.81" fill="#231f20" textLength="179.36" lengthAdjust="spacingAndGlyphs">do zakończenia</text>
<text x="1795.10" y="1413.30" font-size="36.96" font-weight="bold" letter-spacing="0.74" fill="#0a0a0a" textLength="118.12" lengthAdjust="spacingAndGlyphs">kolumny</text>
<text x="1658.90" y="1456.50" font-size="32.61" letter-spacing="0.98" fill="#3c3c3c" textLength="206.15" lengthAdjust="spacingAndGlyphs">W:2458 S:106 G:675</text>
</g>
</svg>
</body></html>
